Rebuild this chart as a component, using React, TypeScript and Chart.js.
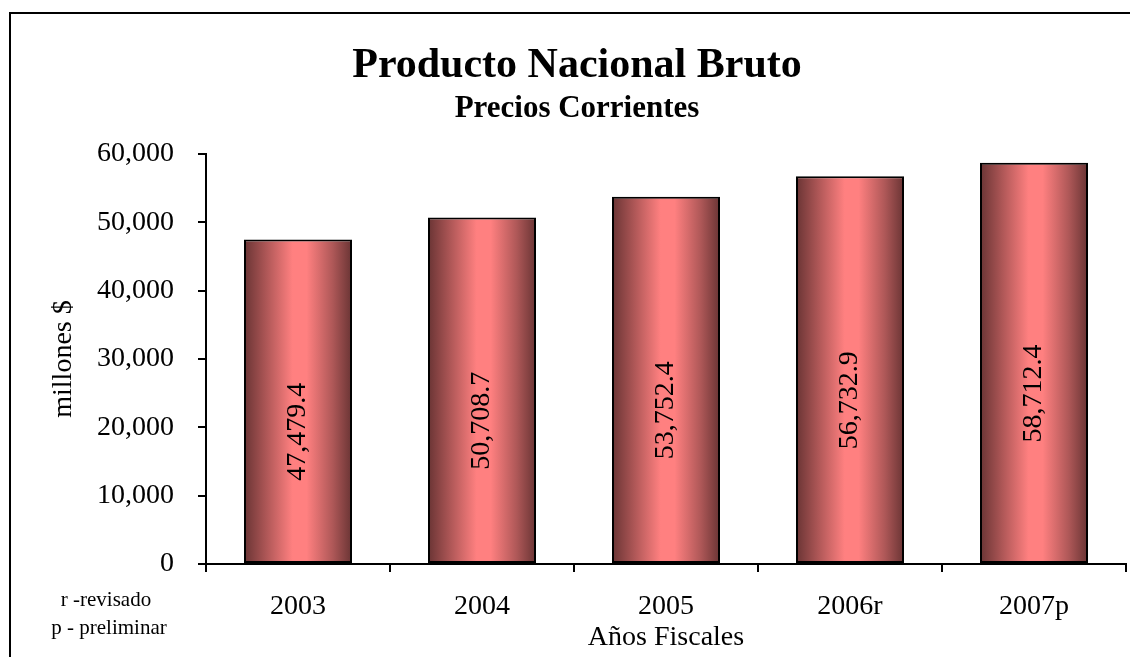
import React, { useEffect, useRef } from "react";
import { Chart, registerables } from "chart.js";

Chart.register(...registerables);

const categories = ["2003", "2004", "2005", "2006r", "2007p"];
const values = [47479.4, 50708.7, 53752.4, 56732.9, 58712.4];
const valueLabels = ["47,479.4", "50,708.7", "53,752.4", "56,732.9", "58,712.4"];
const yTicks = [0, 10000, 20000, 30000, 40000, 50000, 60000];
const titleText = "Producto Nacional Bruto";
const subtitleText = "Precios Corrientes";
const yTitle = "millones $";
const xTitle = "Años Fiscales";
const notes = ["r -revisado", "p - preliminar"];

const FONT = "'Liberation Serif', 'Times New Roman', serif";
const BAR_PCT = 0.587;

const decorPlugin = {
  id: "decor",
  afterDraw(chart: any) {
    const ctx = chart.ctx;
    const area = chart.chartArea;
    ctx.save();
    // outer border
    ctx.strokeStyle = "#000";
    ctx.lineWidth = 2;
    ctx.strokeRect(10, 13, 1134, 720);
    ctx.fillStyle = "#000";
    ctx.textAlign = "center";
    ctx.textBaseline = "middle";
    // title
    ctx.font = `bold 42px ${FONT}`;
    ctx.fillText(titleText, 577, 66);
    ctx.font = `bold 31px ${FONT}`;
    ctx.fillText(subtitleText, 577, 109);
    // axis titles
    ctx.font = `28px ${FONT}`;
    ctx.fillText(xTitle, (area.left + area.right) / 2, 638);
    ctx.save();
    ctx.translate(64, (area.top + area.bottom) / 2);
    ctx.rotate(-Math.PI / 2);
    ctx.fillText(yTitle, 0, 0);
    ctx.restore();
    // notes
    ctx.font = `21px ${FONT}`;
    ctx.fillText(notes[0], 106, 600);
    ctx.fillText(notes[1], 109, 628);
    // value labels
    const meta = chart.getDatasetMeta(0);
    const yScale = chart.scales.y;
    ctx.font = `28px ${FONT}`;
    meta.data.forEach((bar: any, i: number) => {
      const mid = (yScale.getPixelForValue(values[i]) + yScale.getPixelForValue(0)) / 2;
      ctx.save();
      ctx.translate(bar.x, mid + 30);
      ctx.rotate(-Math.PI / 2);
      ctx.fillText(valueLabels[i], 0, 0);
      ctx.restore();
    });
    ctx.restore();
  },
};

export default function App() {
  const ref = useRef<HTMLCanvasElement>(null);
  useEffect(() => {
    if (!ref.current) return;
    const chart = new Chart(ref.current, {
      type: "bar",
      data: {
        labels: categories,
        datasets: [
          {
            data: values,
            borderColor: "#000",
            borderWidth: 2,
            borderSkipped: false,
            barPercentage: BAR_PCT,
            categoryPercentage: 1,
            backgroundColor: (c: any) => {
              const ch = c.chart;
              const xs = ch.scales && ch.scales.x;
              if (!ch.chartArea || !xs || c.dataIndex === undefined) return "#ff8080";
              const cx = xs.getPixelForValue(c.dataIndex);
              const w = (xs.width / categories.length) * BAR_PCT;
              const g = ch.ctx.createLinearGradient(cx - w / 2, 0, cx + w / 2, 0);
              g.addColorStop(0, "rgb(105,52,52)");
              g.addColorStop(0.18, "rgb(165,82,82)");
              g.addColorStop(0.45, "rgb(255,128,128)");
              g.addColorStop(0.58, "rgb(255,128,128)");
              g.addColorStop(0.82, "rgb(175,88,88)");
              g.addColorStop(1, "rgb(105,52,52)");
              return g;
            },
          },
        ],
      },
      options: {
        responsive: false,
        animation: false,
        layout: { padding: { left: 0, top: 154, right: 4, bottom: 0 } },
        plugins: {
          legend: { display: false },
          tooltip: { enabled: false },
          title: { display: false },
        },
        scales: {
          x: {
            offset: true,
            grid: {
              display: true,
              offset: true,
              drawOnChartArea: false,
              drawTicks: true,
              tickLength: 8,
              color: "#000",
              lineWidth: 2,
            },
            border: { display: true, color: "#000", width: 2 },
            ticks: {
              color: "#000",
              font: { family: FONT, size: 28 },
              padding: 18,
              maxRotation: 0,
            },
            afterFit: (s: any) => {
              s.height = 93;
            },
          },
          y: {
            min: 0,
            max: 60000,
            afterBuildTicks: (s: any) => {
              s.ticks = yTicks.map((v) => ({ value: v }));
            },
            grid: {
              display: true,
              drawOnChartArea: false,
              drawTicks: true,
              tickLength: 8,
              color: "#000",
              lineWidth: 2,
            },
            border: { display: true, color: "#000", width: 2 },
            ticks: {
              color: "#000",
              font: { family: FONT, size: 28 },
              padding: 24,
              callback: (v: any) => Number(v).toLocaleString("en-US"),
            },
            afterFit: (s: any) => {
              s.width = 206;
            },
          },
        },
      },
      plugins: [decorPlugin],
    });
    return () => chart.destroy();
  }, []);
  return (
    <div style={{ position: "absolute", left: 0, top: 0, width: 1130, height: 657, background: "#fff" }}>
      <canvas ref={ref} width={1130} height={657} style={{ display: "block" }} />
    </div>
  );
}
